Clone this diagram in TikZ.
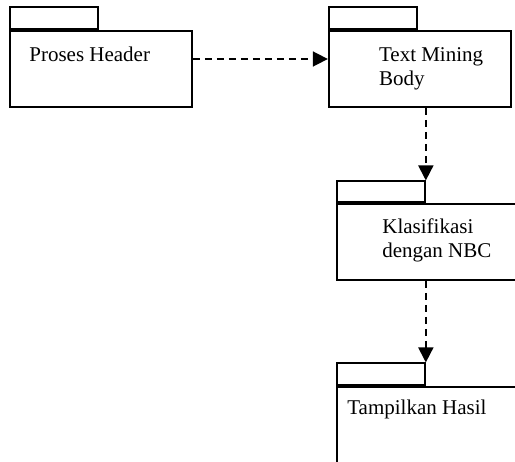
\documentclass[tikz,border=0pt]{standalone}
\usepackage{fontspec}
\setmainfont{Liberation Serif}
\usetikzlibrary{arrows.meta, positioning}

\tikzset{
  pkg/.style={draw, line width=1.7pt, inner sep=0pt, minimum width=182pt, minimum height=76pt},
  pkgtab/.style={draw, line width=1.7pt, inner sep=0pt, minimum width=88pt, minimum height=22pt, anchor=south west},
  pkgtext/.style={inner sep=0pt, anchor=base west, align=left, font=\fontsize{21}{24}\selectfont},
  dep/.style={line width=1.7pt, dash pattern=on 7pt off 5pt, -{Triangle[length=15pt,width=15pt]}}
}

\begin{document}
\begin{tikzpicture}[x=1pt,y=1pt]
  \clip (0,0) rectangle (515,-462);
  % packages
  \node[pkg] (p1) at (101,-69) {};
  \node[pkg, right=135pt of p1] (p2) {};
  \node[pkg] (p3) at (428,-242) {};
  \node[pkg] (p4) at (428,-425) {};
  \node[pkgtab] (p1tab) at (p1.north west) {};
  \node[pkgtab] (p2tab) at (p2.north west) {};
  \node[pkgtab, minimum height=21pt] (p3tab) at (p3.north west) {};
  \node[pkgtab] (p4tab) at (p4.north west) {};
  % labels
  \node[pkgtext] (l1) at ([shift={(20,-31)}]p1.north west) {Proses Header};
  \node[pkgtext] (l2) at ([shift={(51,-55)}]p2.north west) {Text Mining\\Body};
  \node[pkgtext] (l3) at ([shift={(46,-54)}]p3.north west) {Klasifikasi\\dengan NBC};
  \node[pkgtext] (l4) at ([shift={(11,-28)}]p4.north west) {Tampilkan Hasil};
  % dependencies
  \draw[dep] ([yshift=10pt]p1.east) -- ([yshift=10pt]p2.west);
  \draw[dep] (p3tab.north east |- p2.south) -- (p3tab.north east);
  \draw[dep] (p4tab.north east |- p3.south) -- (p4tab.north east);
\end{tikzpicture}
\end{document}
